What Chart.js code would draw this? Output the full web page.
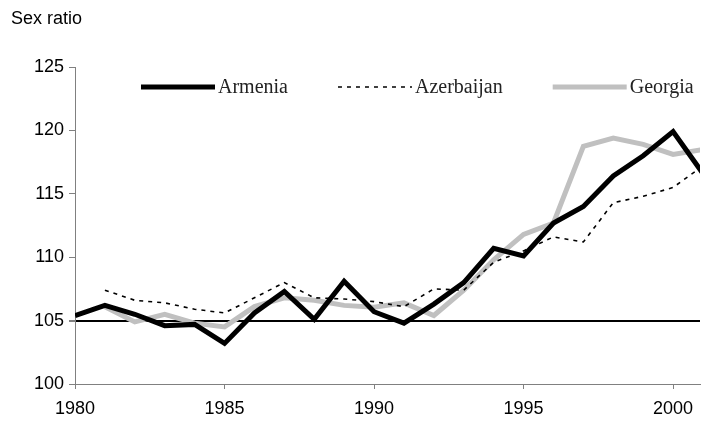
<!DOCTYPE html>
<html>
<head>
<meta charset="utf-8">
<script src="https://cdn.jsdelivr.net/npm/chart.js@4"></script>
<style>
  html, body { margin: 0; padding: 0; background: #fff; }
  canvas { display: block; }
</style>
</head>
<body>
<canvas id="chart" width="701" height="423"></canvas>
<script>
// Data
const years = [1980, 1981, 1982, 1983, 1984, 1985, 1986, 1987, 1988, 1989, 1990,
               1991, 1992, 1993, 1994, 1995, 1996, 1997, 1998, 1999, 2000, 2001];
const armenia = [105.4, 106.2, 105.5, 104.6, 104.7, 103.2, 105.6, 107.3, 105.1, 108.1, 105.7,
                 104.8, 106.3, 108.0, 110.7, 110.1, 112.7, 114.0, 116.4, 118.0, 119.9, 116.6];
const azerbaijan = [null, 107.4, 106.6, 106.4, 105.9, 105.6, 106.8, 108.0, 106.8, 106.7, 106.5,
                    106.1, 107.5, 107.4, 109.6, 110.5, 111.6, 111.2, 114.3, 114.8, 115.5, 117.2];
const georgia = [null, 106.1, 104.9, 105.5, 104.8, 104.5, 106.1, 106.8, 106.6, 106.2, 106.05,
                 106.4, 105.4, 107.4, 109.8, 111.8, 112.7, 118.75, 119.4, 118.9, 118.1, 118.5];
const seriesNames = ['Armenia', 'Azerbaijan', 'Georgia'];
const xTicks = [1980, 1985, 1990, 1995, 2000];
const yTicks = [100, 105, 110, 115, 120, 125];
const refLine = 105;

const AXIS_GREY = '#808080';
const TICK_FONT = { family: '"Liberation Sans", Arial, sans-serif', size: 18 };

function toPoints(values) {
    return years
        .map((yr, i) => ({ x: yr, y: values[i] }))
        .filter(p => p.y !== null);
}

// Legend drawn inside the plot, like the original (line sample then label)
const insideLegend = {
    id: 'insideLegend',
    afterDraw(chart) {
        const ctx = chart.ctx;
        const lineLen = 74, textGap = 3, itemGap = 50;
        let x = 141;
        const y = 87;
        ctx.save();
        ctx.font = '20px "Liberation Serif", "Times New Roman", serif';
        ctx.textBaseline = 'middle';
        chart.data.datasets.forEach(ds => {
            ctx.beginPath();
            ctx.strokeStyle = ds.borderColor;
            ctx.lineWidth = ds.borderWidth;
            ctx.setLineDash(ds.borderDash || []);
            ctx.moveTo(x, y);
            ctx.lineTo(x + lineLen, y);
            ctx.stroke();
            ctx.setLineDash([]);
            x += lineLen + textGap;
            ctx.fillStyle = '#222';
            ctx.fillText(ds.label, x, y + 1);
            x += ctx.measureText(ds.label).width + itemGap;
        });

        // axis caption top-left
        ctx.font = '18px "Liberation Sans", Arial, sans-serif';
        ctx.fillStyle = '#000';
        ctx.textBaseline = 'alphabetic';
        ctx.fillText('Sex ratio', 11, 24);
        ctx.restore();
    }
};

const ctx = document.getElementById('chart').getContext('2d');
new Chart(ctx, {
    type: 'line',
    data: {
        datasets: [
            {
                label: seriesNames[0],
                data: toPoints(armenia),
                borderColor: '#000000',
                borderWidth: 5,
                borderJoinStyle: 'miter',
                pointRadius: 0,
                tension: 0
            },
            {
                label: seriesNames[1],
                data: toPoints(azerbaijan),
                borderColor: '#000000',
                borderWidth: 1.6,
                borderDash: [4, 5],
                pointRadius: 0,
                tension: 0
            },
            {
                label: seriesNames[2],
                data: toPoints(georgia),
                borderColor: '#c0c0c0',
                borderWidth: 5,
                borderJoinStyle: 'miter',
                pointRadius: 0,
                tension: 0
            }
        ]
    },
    options: {
        responsive: false,
        animation: false,
        events: [],
        layout: { padding: { top: 67, right: 1, bottom: 0, left: 0 } },
        plugins: {
            legend: { display: false },
            tooltip: { enabled: false }
        },
        scales: {
            x: {
                type: 'linear',
                min: 1980,
                max: 2000.9,
                afterBuildTicks: axis => { axis.ticks = xTicks.map(v => ({ value: v })); },
                afterFit: axis => {
                    axis.height = 39;
                    axis.paddingLeft = 0;
                    axis.paddingRight = 0;
                },
                ticks: {
                    font: TICK_FONT,
                    color: '#000',
                    padding: 9,
                    maxRotation: 0,
                    callback: v => String(v)
                },
                grid: {
                    drawOnChartArea: false,
                    drawTicks: true,
                    tickLength: 5,
                    tickColor: AXIS_GREY
                },
                border: { display: true, color: AXIS_GREY, width: 1 }
            },
            y: {
                min: 100,
                max: 125,
                afterBuildTicks: axis => { axis.ticks = yTicks.map(v => ({ value: v })); },
                afterFit: axis => {
                    axis.width = 75;
                    axis.paddingTop = 0;
                    axis.paddingBottom = 0;
                },
                ticks: {
                    font: TICK_FONT,
                    color: '#000',
                    padding: 5
                },
                grid: {
                    drawOnChartArea: true,
                    drawTicks: true,
                    tickLength: 6,
                    tickColor: AXIS_GREY,
                    color: c => (c.tick && c.tick.value === refLine) ? '#000000' : 'rgba(0,0,0,0)',
                    lineWidth: c => (c.tick && c.tick.value === refLine) ? 2 : 1
                },
                border: { display: true, color: AXIS_GREY, width: 1 }
            }
        }
    },
    plugins: [insideLegend]
});
</script>
</body>
</html>
